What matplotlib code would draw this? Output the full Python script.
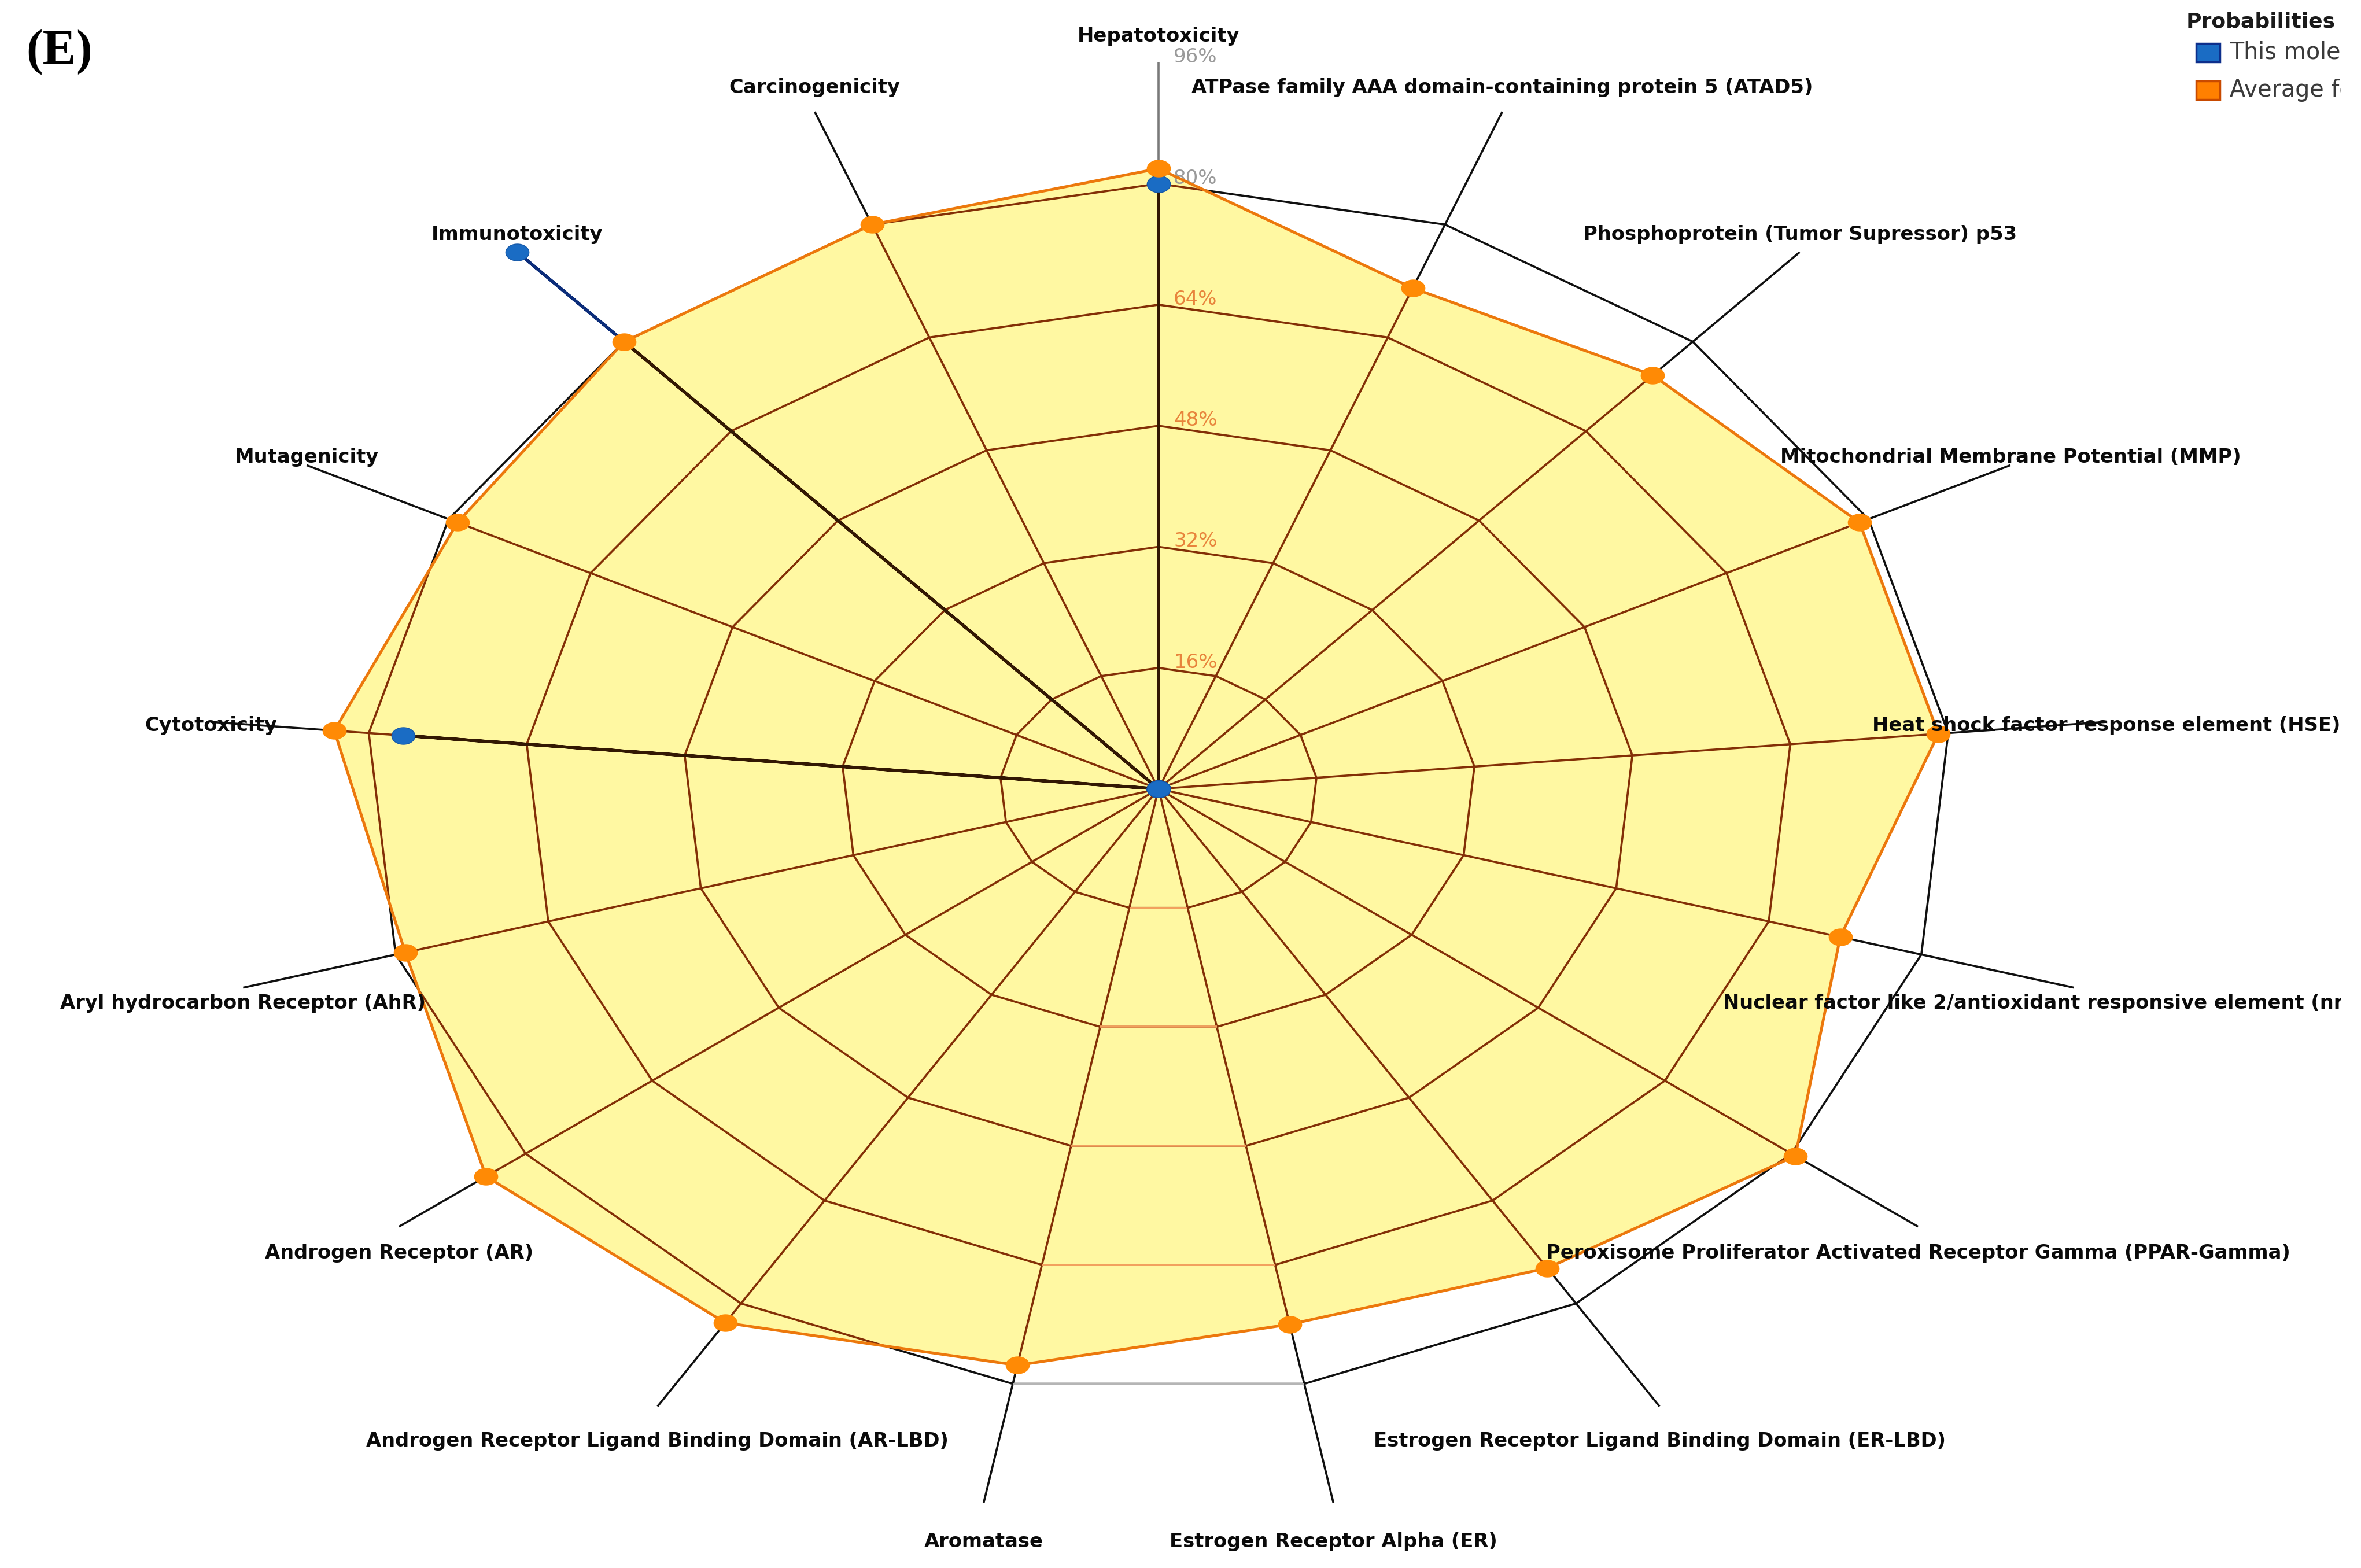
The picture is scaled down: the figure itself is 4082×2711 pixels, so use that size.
import numpy as np
import matplotlib
matplotlib.use("Agg")
import matplotlib.pyplot as plt
from matplotlib.path import Path
from matplotlib.patches import Rectangle
from matplotlib.transforms import Bbox, TransformedBbox

# ---------------- data ----------------
categories = [
    "Hepatotoxicity",
    "ATPase family AAA domain-containing protein 5 (ATAD5)",
    "Phosphoprotein (Tumor Supressor) p53",
    "Mitochondrial Membrane Potential (MMP)",
    "Heat shock factor response element (HSE)",
    "Nuclear factor like 2/antioxidant responsive element (nrf2/ARE)",
    "Peroxisome Proliferator Activated Receptor Gamma (PPAR-Gamma)",
    "Estrogen Receptor Ligand Binding Domain (ER-LBD)",
    "Estrogen Receptor Alpha (ER)",
    "Aromatase",
    "Androgen Receptor Ligand Binding Domain (AR-LBD)",
    "Androgen Receptor (AR)",
    "Aryl hydrocarbon Receptor (AhR)",
    "Cytotoxicity",
    "Mutagenicity",
    "Immunotoxicity",
    "Carcinogenicity",
]
this_molecule = [0.80, 0, 0, 0, 0, 0, 0, 0, 0, 0, 0, 0, 0, 0.765, 0, 0.96, 0]
average_class = [0.82, 0.71, 0.74, 0.79, 0.79, 0.715, 0.805, 0.745, 0.72,
                 0.775, 0.83, 0.85, 0.79, 0.835, 0.79, 0.80, 0.80]
tick_values = [0.16, 0.32, 0.48, 0.64, 0.80, 0.96]
tick_labels = ["16%", "32%", "48%", "64%", "80%", "96%"]
legend_title = "Probabilities"
legend_labels = ["This molecule", "Average for its class"]
panel_label = "(E)"

# ---------------- style ----------------
W, H, DPI = 4082, 2711, 100
plt.rcParams['font.family'] = ['DejaVu Sans']

FILL = '#fff8a2'
BROWN = '#832f06'
BLACK = '#101010'
NAVY = '#0c2d7a'
DARK_IN = '#331803'
ORANGE_LINE = '#ec780c'
ORANGE_MK = '#ff8a05'
BLUE_MK = '#1a6cc4'

fig = plt.figure(figsize=(W / DPI, H / DPI), dpi=DPI)
fig.patch.set_facecolor('white')


def fx(px):
    return px / W


def fy(py):
    return 1 - py / H


cx, cy, rx, ry = 2003, 1364, 1714, 1308
ax = fig.add_axes([fx(cx - rx), fy(cy + ry), 2 * rx / W, 2 * ry / H], projection='polar')
ax.set_aspect('auto')
ax.set_theta_zero_location('N')
ax.set_theta_direction(-1)
ax.set_ylim(0, 1.0)
ax.axis('off')

n = len(categories)
theta = np.arange(n) * 2 * np.pi / n
theta_c = np.append(theta, theta[0])
r_max = tick_values[-1]
ring_values = tick_values[:-1]


def closed(v):
    v = list(v)
    return v + v[:1]


# yellow area of the class average (opaque, lines inside are redrawn clipped)
poly = ax.fill(theta, average_class, facecolor=FILL, edgecolor='none', zorder=3)[0]

LW = 2.6


def grid_line(th, rr, color_out, color_in, z_out=1.0, z_in=4.0, lw=LW):
    ax.plot(th, rr, color=color_out, lw=lw, zorder=z_out, clip_on=False,
            solid_capstyle='butt')
    ln, = ax.plot(th, rr, color=color_in, lw=lw, zorder=z_in, solid_capstyle='butt')
    ln.set_clip_path(poly)


# polygon rings
for rv in ring_values:
    grid_line(theta_c, [rv] * (n + 1), BLACK, BROWN)
    # the horizontal bottom segment looks faint in the reference
    grid_line([theta[8], theta[9]], [rv, rv], '#b5b5b5', '#f2a15e', 1.1, 4.1)

# spokes
for i, th in enumerate(theta):
    col = '#7a7a7a' if i == 0 else BLACK
    grid_line([th, th], [0, r_max], col, BROWN)

# "This molecule" line (under the fill; redrawn darker inside the fill)
ax.plot(theta_c, closed(this_molecule), color=NAVY, lw=3.8, zorder=2.5, clip_on=False)
bl, = ax.plot(theta_c, closed(this_molecule), color=DARK_IN, lw=3.8, zorder=5.5)
bl.set_clip_path(poly)

# average outline
ax.plot(theta_c, closed(average_class), color=ORANGE_LINE, lw=3.5, zorder=6, clip_on=False)

# ellipse marker (chart is stretched horizontally)
t = np.linspace(0, 2 * np.pi, 73)
ell = Path(np.column_stack([np.cos(t), 0.72 * np.sin(t)]), closed=True)

ax.plot(theta, this_molecule, linestyle='none', marker=ell, markersize=29,
        markerfacecolor=BLUE_MK, markeredgecolor='#1558a8', zorder=7, clip_on=False)
ax.plot(theta, average_class, linestyle='none', marker=ell, markersize=29,
        markerfacecolor=ORANGE_MK, markeredgecolor=ORANGE_MK, zorder=8, clip_on=False)

# radial tick labels
for rv, lab in zip(tick_values, tick_labels):
    col = '#9a9a9a' if rv >= 0.8 else '#e8843c'
    ax.annotate(lab, xy=(0, rv), xytext=(26, 0), textcoords='offset pixels',
                ha='left', va='baseline', fontsize=24.5, color=col, zorder=5.8,
                annotation_clip=False)

# clip box (reference is cut off on the right)
clipbox = TransformedBbox(Bbox.from_extents(0, 0, 4048 / W, 1), fig.transFigure)

# category labels
for th, cat in zip(theta, categories):
    dy = -(21 - 57 * np.cos(th))
    a = ax.annotate(cat, xy=(th, r_max), xytext=(0, dy), textcoords='offset pixels',
                    ha='center', va='baseline', fontsize=24.3, fontweight='bold',
                    color='#0a0a0a', zorder=9, annotation_clip=False)
    a.set_clip_on(True)
    a.set_clip_box(clipbox)

# legend (drawn manually to match the cut-off reference)
fig.text(fx(3780), fy(47), legend_title, fontsize=26, fontweight='bold',
         color='#1a1a1a', ha='left', va='baseline')
sq_cols = [(BLUE_MK, '#0d2f8c'), ('#ff8000', '#c84a00')]
sq_tops = [75, 140]
txt_base = [102, 167]
for (fc, ec), top, base, lab in zip(sq_cols, sq_tops, txt_base, legend_labels):
    fig.add_artist(Rectangle((fx(3797), fy(top + 32)), 41 / W, 32 / H,
                             transform=fig.transFigure, facecolor=fc,
                             edgecolor=ec, lw=2.5))
    tx = fig.text(fx(3855), fy(base), lab, fontsize=28.5, color='#3a3a3a',
                  ha='left', va='baseline')
    tx.set_clip_on(True)
    tx.set_clip_box(clipbox)

# panel label
fig.text(fx(45), fy(110), panel_label, fontsize=62, fontweight='bold',
         family='Liberation Serif', ha='left', va='baseline', color='black')

fig.savefig('out.png', dpi=DPI, facecolor='white')
